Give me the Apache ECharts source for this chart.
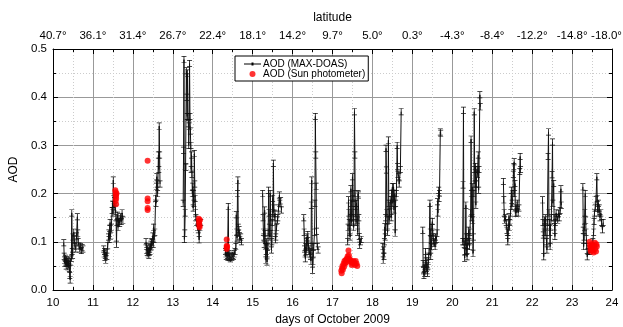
<!DOCTYPE html>
<html><head><meta charset="utf-8">
<script src="https://cdn.jsdelivr.net/npm/echarts@6/dist/echarts.min.js"></script>
<style>html,body{margin:0;padding:0;background:#fff}#c{width:623px;height:327px}</style>
</head><body><div id="c"></div>
<script>
// ---- data ----
const dayTicks = [10,11,12,13,14,15,16,17,18,19,20,21,22,23,24];
const latitudeLabels = ['40.7°','36.1°','31.4°','26.7°','22.4°','18.1°','14.2°','9.7°','5.0°','0.3°','-4.3°','-8.4°','-12.2°','-14.8°','-18.0°'];

const maxdoas10 = [[10.27,0.098],[10.28,0.070],[10.29,0.062],[10.30,0.055],[10.31,0.066],[10.32,0.058],[10.33,0.050],[10.34,0.063],[10.35,0.055],[10.36,0.060],[10.37,0.048],[10.38,0.058],[10.39,0.052],[10.40,0.062],[10.41,0.045],[10.42,0.030],[10.43,0.021],[10.44,0.058],[10.46,0.066],[10.47,0.160],[10.48,0.080],[10.49,0.072],[10.50,0.110],[10.52,0.120],[10.53,0.105],[10.55,0.090],[10.57,0.085],[10.59,0.112],[10.61,0.152],[10.62,0.118],[10.63,0.100],[10.65,0.092],[10.67,0.085],[10.69,0.090],[10.71,0.082],[10.73,0.088],[10.75,0.085]];
const maxdoas11 = [[11.27,0.085],[11.28,0.075],[11.29,0.080],[11.30,0.068],[11.31,0.072],[11.32,0.062],[11.33,0.078],[11.35,0.070],[11.37,0.092],[11.39,0.110],[11.40,0.118],[11.41,0.105],[11.42,0.128],[11.43,0.140],[11.44,0.112],[11.46,0.130],[11.48,0.165],[11.49,0.178],[11.50,0.160],[11.51,0.228],[11.52,0.190],[11.53,0.172],[11.54,0.185],[11.56,0.168],[11.58,0.150],[11.59,0.095],[11.60,0.140],[11.62,0.155],[11.63,0.130],[11.65,0.148],[11.67,0.138],[11.69,0.152],[11.71,0.142],[11.73,0.160],[11.75,0.145]];
const maxdoas12 = [[12.33,0.100],[12.34,0.090],[12.35,0.082],[12.36,0.078],[12.37,0.085],[12.38,0.075],[12.39,0.080],[12.40,0.072],[12.41,0.078],[12.42,0.085],[12.43,0.080],[12.44,0.088],[12.45,0.095],[12.46,0.090],[12.47,0.100],[12.48,0.098],[12.50,0.112],[12.51,0.095],[12.52,0.130],[12.53,0.105],[12.55,0.120],[12.57,0.190],[12.58,0.180],[12.59,0.215],[12.60,0.235],[12.61,0.220],[12.62,0.200],[12.64,0.280],[12.65,0.250],[12.66,0.340],[12.67,0.280],[12.68,0.220]];
const maxdoas13 = [[13.26,0.180],[13.27,0.290],[13.28,0.478],[13.29,0.105],[13.30,0.118],[13.31,0.160],[13.32,0.255],[13.33,0.255],[13.34,0.455],[13.35,0.400],[13.36,0.360],[13.37,0.450],[13.38,0.360],[13.39,0.345],[13.40,0.300],[13.41,0.340],[13.42,0.470],[13.43,0.360],[13.44,0.330],[13.45,0.300],[13.46,0.250],[13.47,0.280],[13.48,0.240],[13.49,0.200],[13.50,0.215],[13.51,0.170],[13.52,0.200],[13.53,0.180],[13.54,0.283],[13.55,0.220],[13.56,0.190],[13.57,0.160],[13.58,0.150],[13.60,0.140],[13.62,0.130],[13.64,0.125],[13.66,0.104],[13.68,0.130],[13.70,0.140]];
const maxdoas14 = [[14.32,0.080],[14.33,0.075],[14.34,0.070],[14.36,0.078],[14.37,0.072],[14.38,0.068],[14.39,0.173],[14.40,0.070],[14.41,0.075],[14.42,0.068],[14.44,0.065],[14.46,0.070],[14.48,0.068],[14.50,0.072],[14.52,0.070],[14.54,0.075],[14.56,0.080],[14.58,0.090],[14.59,0.156],[14.60,0.120],[14.61,0.108],[14.62,0.200],[14.63,0.228],[14.64,0.130],[14.65,0.118],[14.66,0.125],[14.67,0.112],[14.68,0.105],[14.70,0.110],[14.72,0.100]];
const maxdoas15 = [[15.25,0.200],[15.26,0.150],[15.27,0.120],[15.28,0.110],[15.29,0.095],[15.30,0.166],[15.31,0.117],[15.32,0.090],[15.33,0.062],[15.34,0.080],[15.35,0.100],[15.36,0.058],[15.37,0.075],[15.38,0.090],[15.39,0.120],[15.40,0.207],[15.41,0.160],[15.42,0.130],[15.43,0.110],[15.44,0.200],[15.45,0.150],[15.46,0.117],[15.47,0.083],[15.48,0.100],[15.49,0.140],[15.50,0.190],[15.51,0.160],[15.52,0.263],[15.53,0.170],[15.54,0.150],[15.56,0.159],[15.57,0.104],[15.58,0.110],[15.60,0.130],[15.62,0.145],[15.63,0.150],[15.65,0.170],[15.67,0.197],[15.68,0.180],[15.70,0.185],[15.72,0.166]];
const maxdoas16 = [[16.28,0.150],[16.29,0.120],[16.30,0.085],[16.31,0.075],[16.32,0.065],[16.33,0.090],[16.34,0.080],[16.35,0.100],[16.36,0.110],[16.37,0.095],[16.38,0.115],[16.40,0.090],[16.41,0.085],[16.42,0.075],[16.44,0.080],[16.45,0.070],[16.46,0.060],[16.47,0.176],[16.48,0.228],[16.49,0.090],[16.50,0.041],[16.51,0.060],[16.52,0.075],[16.53,0.090],[16.55,0.120],[16.56,0.180],[16.57,0.360],[16.58,0.280],[16.59,0.215],[16.60,0.122],[16.62,0.090],[16.64,0.083]];
const maxdoas17 = [[17.38,0.100],[17.39,0.130],[17.40,0.187],[17.41,0.160],[17.42,0.140],[17.43,0.120],[17.44,0.110],[17.45,0.150],[17.46,0.210],[17.47,0.180],[17.48,0.140],[17.49,0.160],[17.50,0.235],[17.51,0.190],[17.52,0.150],[17.53,0.130],[17.54,0.200],[17.55,0.370],[17.56,0.280],[17.57,0.180],[17.58,0.160],[17.59,0.140],[17.60,0.180],[17.62,0.145],[17.63,0.120],[17.64,0.200],[17.65,0.197],[17.66,0.150],[17.67,0.111],[17.68,0.093],[17.70,0.100],[17.72,0.105]];
const maxdoas18 = [[18.26,0.090],[18.27,0.062],[18.28,0.083],[18.29,0.070],[18.30,0.100],[18.31,0.131],[18.32,0.110],[18.33,0.150],[18.34,0.294],[18.35,0.249],[18.36,0.160],[18.37,0.130],[18.38,0.120],[18.39,0.145],[18.40,0.311],[18.41,0.180],[18.42,0.145],[18.43,0.160],[18.44,0.175],[18.46,0.187],[18.47,0.150],[18.48,0.200],[18.50,0.214],[18.51,0.180],[18.52,0.190],[18.53,0.214],[18.54,0.166],[18.56,0.200],[18.57,0.118],[18.58,0.180],[18.60,0.200],[18.62,0.300],[18.63,0.256],[18.64,0.240],[18.66,0.235],[18.67,0.220],[18.70,0.250],[18.72,0.370]];
const maxdoas19 = [[19.26,0.124],[19.27,0.055],[19.28,0.040],[19.29,0.030],[19.30,0.045],[19.31,0.035],[19.32,0.050],[19.33,0.080],[19.34,0.060],[19.35,0.045],[19.36,0.055],[19.37,0.040],[19.38,0.035],[19.39,0.050],[19.40,0.060],[19.41,0.070],[19.42,0.080],[19.44,0.180],[19.45,0.120],[19.46,0.070],[19.47,0.104],[19.48,0.090],[19.49,0.130],[19.50,0.142],[19.51,0.120],[19.52,0.110],[19.54,0.097],[19.55,0.100],[19.57,0.090],[19.58,0.110],[19.60,0.105],[19.62,0.118],[19.63,0.183],[19.64,0.160],[19.66,0.207],[19.67,0.190],[19.68,0.200],[19.70,0.328],[19.71,0.325]];
const maxdoas20 = [[20.26,0.100],[20.27,0.218],[20.28,0.373],[20.29,0.100],[20.30,0.095],[20.31,0.066],[20.32,0.080],[20.33,0.100],[20.34,0.176],[20.35,0.110],[20.36,0.080],[20.37,0.069],[20.38,0.090],[20.39,0.100],[20.40,0.110],[20.41,0.124],[20.42,0.100],[20.43,0.090],[20.44,0.120],[20.46,0.160],[20.47,0.313],[20.48,0.200],[20.49,0.150],[20.50,0.214],[20.51,0.145],[20.52,0.076],[20.53,0.110],[20.54,0.200],[20.55,0.370],[20.56,0.250],[20.57,0.220],[20.58,0.256],[20.59,0.176],[20.60,0.220],[20.62,0.250],[20.63,0.240],[20.65,0.280],[20.66,0.207],[20.67,0.250],[20.69,0.405],[20.70,0.380]];
const maxdoas21 = [[21.28,0.225],[21.29,0.187],[21.30,0.160],[21.31,0.145],[21.33,0.150],[21.35,0.140],[21.37,0.124],[21.38,0.120],[21.39,0.100],[21.40,0.120],[21.42,0.152],[21.43,0.130],[21.44,0.140],[21.46,0.160],[21.48,0.207],[21.49,0.173],[21.50,0.180],[21.52,0.200],[21.53,0.240],[21.54,0.256],[21.55,0.266],[21.56,0.200],[21.57,0.221],[21.58,0.159],[21.59,0.170],[21.60,0.160],[21.62,0.176],[21.63,0.180],[21.65,0.160],[21.67,0.170],[21.69,0.246],[21.70,0.277],[21.71,0.250]];
const maxdoas22 = [[22.26,0.187],[22.27,0.140],[22.28,0.114],[22.29,0.069],[22.30,0.120],[22.31,0.145],[22.32,0.130],[22.33,0.150],[22.34,0.120],[22.36,0.100],[22.37,0.083],[22.38,0.140],[22.40,0.277],[22.41,0.328],[22.42,0.160],[22.43,0.140],[22.44,0.120],[22.45,0.090],[22.46,0.130],[22.48,0.150],[22.50,0.239],[22.51,0.307],[22.52,0.180],[22.54,0.221],[22.55,0.150],[22.56,0.131],[22.57,0.111],[22.58,0.140],[22.60,0.160],[22.62,0.150],[22.64,0.145],[22.66,0.159],[22.68,0.150],[22.70,0.165],[22.72,0.210],[22.73,0.176]];
const maxdoas23 = [[23.27,0.214],[23.28,0.124],[23.29,0.090],[23.30,0.110],[23.31,0.130],[23.32,0.160],[23.33,0.200],[23.34,0.145],[23.35,0.120],[23.37,0.090],[23.38,0.069],[23.40,0.080],[23.42,0.085],[23.44,0.080],[23.46,0.090],[23.48,0.085],[23.50,0.090],[23.52,0.100],[23.54,0.120],[23.55,0.142],[23.56,0.160],[23.58,0.170],[23.60,0.187],[23.62,0.235],[23.63,0.190],[23.64,0.170],[23.65,0.160],[23.66,0.180],[23.68,0.170],[23.70,0.150],[23.72,0.160],[23.74,0.140],[23.76,0.125],[23.78,0.140]];

const sunphot11 = [[11.56,0.207],[11.57,0.203],[11.57,0.198],[11.58,0.195],[11.58,0.190],[11.57,0.185],[11.58,0.178],[11.59,0.200]];
const sunphot12 = [[12.37,0.268],[12.37,0.190],[12.37,0.184],[12.37,0.170],[12.37,0.166]];
const sunphot13 = [[13.65,0.148],[13.66,0.143],[13.66,0.138],[13.67,0.134],[13.67,0.130],[13.68,0.145]];
const sunphot14 = [[14.35,0.105],[14.35,0.092],[14.35,0.088],[14.35,0.085],[14.36,0.090]];
const sunphot17 = [[17.22,0.040],[17.23,0.035],[17.24,0.045],[17.25,0.050],[17.26,0.042],[17.28,0.055],[17.29,0.048],[17.30,0.060],[17.32,0.055],[17.33,0.062],[17.35,0.058],[17.36,0.065],[17.38,0.070],[17.40,0.082],[17.41,0.072],[17.42,0.065],[17.44,0.060],[17.45,0.062],[17.47,0.058],[17.48,0.052],[17.50,0.055],[17.52,0.060],[17.54,0.058],[17.56,0.052],[17.58,0.060],[17.60,0.055],[17.62,0.050]];
const sunphot23 = [[23.44,0.100],[23.45,0.092],[23.46,0.085],[23.47,0.080],[23.48,0.090],[23.49,0.095],[23.50,0.088],[23.52,0.082],[23.54,0.078],[23.55,0.092],[23.57,0.098],[23.58,0.085],[23.60,0.080],[23.61,0.095],[23.62,0.090]];

// ---- build ----
const maxdoasDays = [maxdoas10,maxdoas11,maxdoas12,maxdoas13,maxdoas14,maxdoas15,maxdoas16,maxdoas17,maxdoas18,maxdoas19,maxdoas20,maxdoas21,maxdoas22,maxdoas23];
const maxdoasData = [];
maxdoasDays.forEach(d => { d.forEach(p => maxdoasData.push(p)); maxdoasData.push([d[d.length-1][0]+0.01, null]); });
const sunData = [].concat(sunphot11,sunphot12,sunphot13,sunphot14,sunphot17,sunphot23);

const FONT = "'Liberation Sans', Arial, sans-serif";
const errBar = 'path://M0,0H6V1H3.5V9H6V10H0V9H2.5V1H0Z';
const lineDotIcon = 'path://M0,1H7.5V0H9.5V1H17V2H9.5V3H7.5V2H0Z';

const chart = echarts.init(document.getElementById('c'), null, {renderer:'canvas'});
const xCommon = {
  type:'value', min:10, max:24, interval:1,
  axisLine:{show:true, onZero:false, lineStyle:{color:'#000', width:1}},
  axisTick:{show:true, inside:true, length:5, lineStyle:{color:'#000'}},
  minorTick:{show:true, splitNumber:2, length:3, lineStyle:{color:'#000'}},
};
chart.setOption({
  animation:false,
  grid:{left:53, right:11, top:49, bottom:37, containLabel:false, outerBoundsMode:'none'},
  legend:{
    orient:'vertical', left:235, top:56,
    backgroundColor:'#fff', borderColor:'#000', borderWidth:1, borderRadius:0,
    padding:[3,3,2,9], itemGap:0, itemWidth:17, itemHeight:6,
    symbolKeepAspect:true,
    textStyle:{fontFamily:FONT, fontSize:10, color:'#000', padding:[0,0,0,-3]},
    data:[
      {name:'AOD (MAX-DOAS)', icon:lineDotIcon, itemStyle:{color:'#000'}},
      {name:'AOD (Sun photometer)', icon:'circle'}
    ]
  },
  xAxis:[
    Object.assign({}, xCommon, {
      position:'bottom',
      name:'days of October 2009', nameLocation:'middle', nameGap:22,
      nameTextStyle:{fontFamily:FONT, fontSize:12, color:'#000'},
      axisLabel:{fontFamily:FONT, fontSize:11.5, color:'#000', margin:7},
      splitLine:{show:true, lineStyle:{color:'#999', width:1}},
      minorSplitLine:{show:true, lineStyle:{color:'#ccc', type:[1,2], width:1}}
    }),
    Object.assign({}, xCommon, {
      position:'top',
      name:'latitude', nameLocation:'middle', nameGap:25,
      nameTextStyle:{fontFamily:FONT, fontSize:12, color:'#000'},
      axisLabel:{fontFamily:FONT, fontSize:11.5, color:'#000', margin:7,
        formatter: v => {
          const i = dayTicks.indexOf(Math.round(v));
          const s = latitudeLabels[i];
          return i === dayTicks.length - 1 ? '{last|' + s + '}' : s;
        },
        rich:{ last:{fontFamily:FONT, fontSize:11.5, color:'#000', padding:[0,11,0,0]} }
      },
      splitLine:{show:false}
    })
  ],
  yAxis:[
    {
      type:'value', min:0, max:0.5, interval:0.1, position:'left',
      name:'AOD', nameLocation:'middle', nameGap:30, nameRotate:90,
      nameTextStyle:{fontFamily:FONT, fontSize:12, color:'#000'},
      axisLine:{show:true, lineStyle:{color:'#000'}},
      axisTick:{show:true, inside:true, length:5, lineStyle:{color:'#000'}},
      minorTick:{show:true, splitNumber:2, length:3, lineStyle:{color:'#000'}},
      axisLabel:{fontFamily:FONT, fontSize:11.5, color:'#000', margin:6, formatter: v => v.toFixed(1)},
      splitLine:{show:true, lineStyle:{color:'#999', width:1}},
      minorSplitLine:{show:true, lineStyle:{color:'#ccc', type:[1,2], width:1}}
    },
    {
      type:'value', min:0, max:0.5, interval:0.1, position:'right',
      axisLine:{show:true, lineStyle:{color:'#000'}},
      axisTick:{show:true, inside:true, length:5, lineStyle:{color:'#000'}},
      minorTick:{show:true, splitNumber:2, length:3, lineStyle:{color:'#000'}},
      axisLabel:{show:false}, splitLine:{show:false}
    }
  ],
  series:[
    {
      name:'AOD (MAX-DOAS)', type:'line', xAxisIndex:0, yAxisIndex:0,
      data:maxdoasData, connectNulls:false,
      symbol:errBar, symbolSize:[5,7], showSymbol:true,
      lineStyle:{color:'#111', width:1}, itemStyle:{color:'#111'},
      z:3
    },
    {
      name:'AOD (Sun photometer)', type:'scatter', xAxisIndex:0, yAxisIndex:0,
      data:sunData, symbol:'circle', symbolSize:6,
      itemStyle:{color:'#ff0000'}, z:4
    }
  ]
});
</script></body></html>
